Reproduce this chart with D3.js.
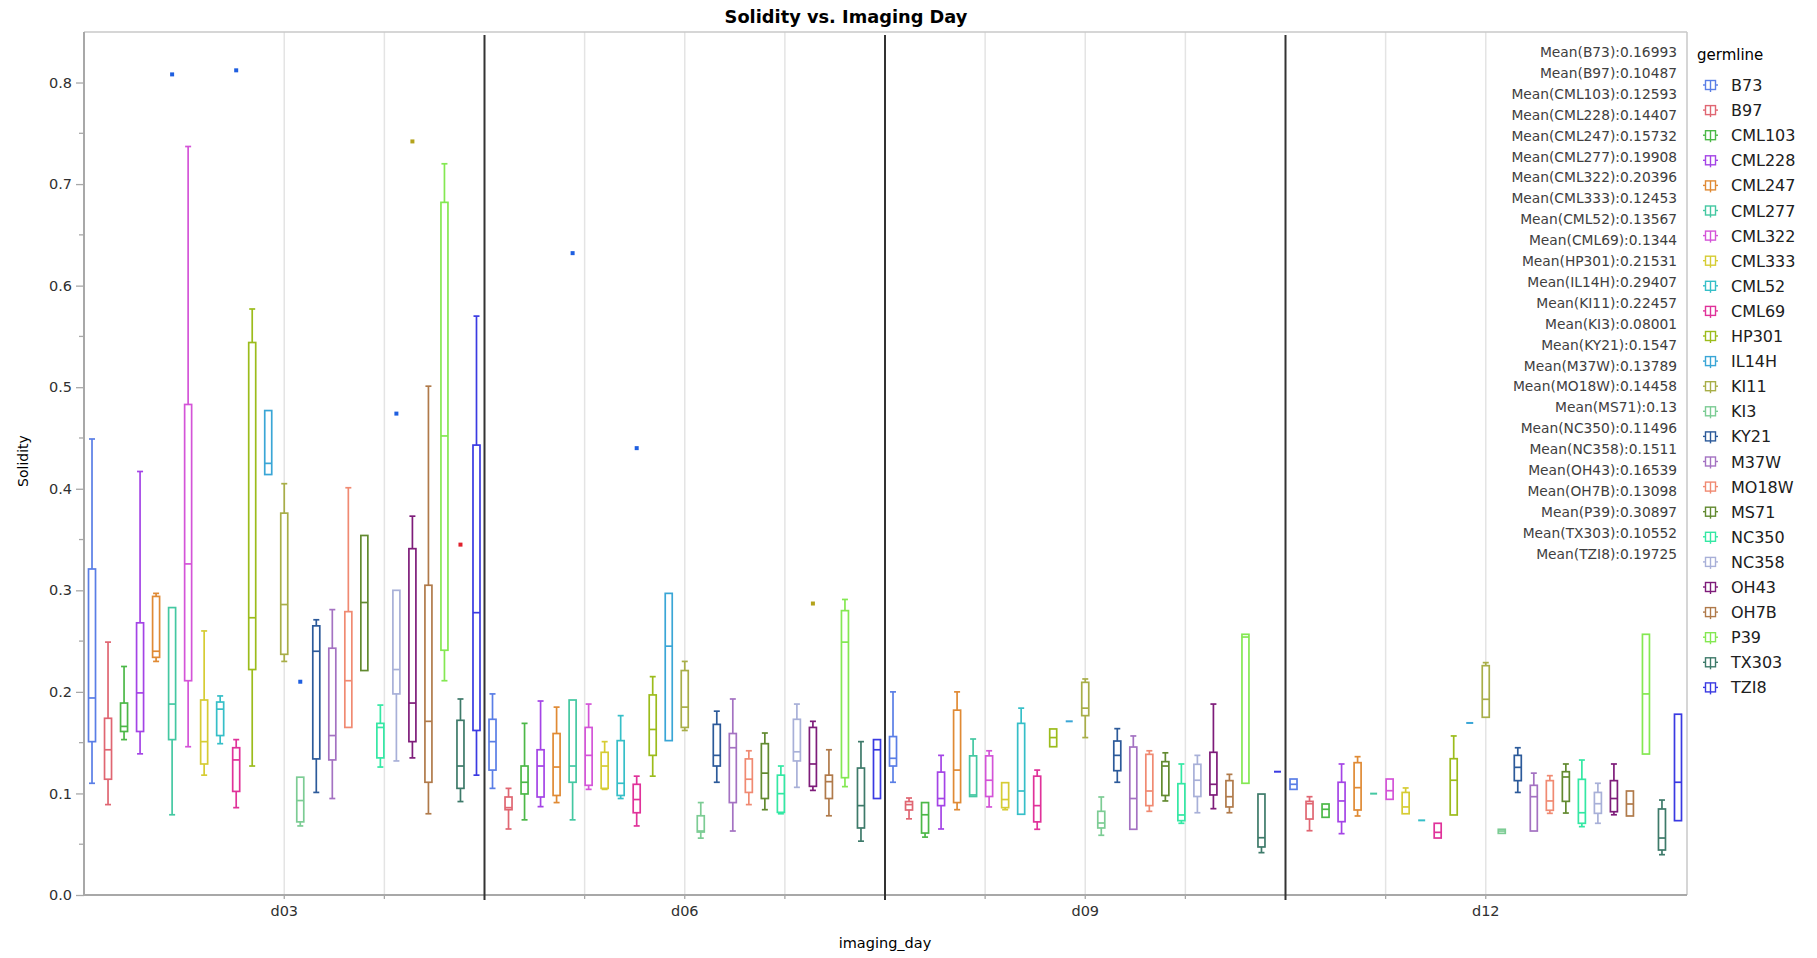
<!DOCTYPE html>
<html><head><meta charset="utf-8">
<script src="https://cdn.jsdelivr.net/npm/d3@7"></script>
<style>body{margin:0;background:#fff;} svg{display:block;}</style>
</head><body>
<script>
const days = ["d03","d06","d09","d12"];
const germlines = ["B73","B97","CML103","CML228","CML247","CML277","CML322","CML333","CML52","CML69","HP301","IL14H","KI11","KI3","KY21","M37W","MO18W","MS71","NC350","NC358","OH43","OH7B","P39","TX303","TZI8"];
const palette = ["#5a7ee6","#e06672","#4cb848","#a444e6","#e08a34","#44c8a2","#d454d8","#d6cc34","#36bfc8","#e0329a","#9cbc1c","#3aa6d6","#a8ae48","#7ccc94","#2c5a9a","#a472c2","#f08a72","#628a30","#34e8a4","#a8b0d8","#7e1c7a","#b07a4a","#84e852","#3e7a6a","#3a3ae2"];
// [lower whisker, Q1, median, Q3, upper whisker]
const statsD03 = [
 [0.110,0.151,0.194,0.321,0.449],[0.089,0.114,0.143,0.174,0.249],[0.153,0.161,0.166,0.189,0.225],
 [0.139,0.161,0.199,0.268,0.417],[0.230,0.234,0.240,0.294,0.297],[0.079,0.153,0.188,0.283,0.283],
 [0.146,0.211,0.326,0.483,0.737],[0.118,0.129,0.151,0.192,0.260],[0.149,0.157,0.183,0.190,0.196],
 [0.086,0.102,0.133,0.145,0.153],[0.127,0.222,0.273,0.544,0.577],[0.414,0.414,0.425,0.477,0.477],
 [0.230,0.237,0.286,0.376,0.405],[0.068,0.072,0.093,0.116,0.116],[0.101,0.134,0.240,0.265,0.271],
 [0.095,0.133,0.157,0.243,0.281],[0.165,0.165,0.211,0.279,0.401],[0.221,0.221,0.288,0.354,0.354],
 [0.126,0.135,0.165,0.169,0.187],[0.132,0.198,0.222,0.300,0.300],[0.135,0.151,0.189,0.341,0.373],
 [0.080,0.111,0.171,0.305,0.501],[0.211,0.241,0.452,0.682,0.720],[0.092,0.105,0.127,0.172,0.193],
 [0.118,0.162,0.278,0.443,0.570]];
const statsD06 = [
 [0.105,0.123,0.151,0.173,0.198],[0.065,0.084,0.086,0.0965,0.105],[0.074,0.0995,0.111,0.127,0.169],
 [0.087,0.0965,0.127,0.143,0.191],[0.091,0.098,0.126,0.159,0.185],[0.074,0.111,0.127,0.192,0.192],
 [0.104,0.108,0.1375,0.165,0.188],[0.104,0.105,0.127,0.1405,0.151],[0.095,0.098,0.110,0.152,0.1766],
 [0.068,0.081,0.094,0.109,0.117],[0.117,0.1375,0.163,0.197,0.215],[0.152,0.152,0.245,0.297,0.297],
 [0.162,0.165,0.185,0.221,0.230],[0.056,0.062,0.063,0.078,0.091],[0.111,0.127,0.1375,0.168,0.181],
 [0.063,0.091,0.145,0.159,0.193],[0.089,0.101,0.114,0.134,0.142],[0.084,0.095,0.120,0.149,0.1595],
 [0.080,0.0814,0.0998,0.118,0.127],[0.106,0.132,0.141,0.173,0.188],[0.103,0.107,0.129,0.165,0.171],
 [0.078,0.095,0.1116,0.118,0.143],[0.1067,0.1155,0.249,0.280,0.291],[0.053,0.066,0.088,0.125,0.151],
 [0.095,0.095,0.143,0.153,0.153]];
const statsD09 = [
 [0.111,0.127,0.1346,0.156,0.200],[0.075,0.0837,0.089,0.092,0.0955],[0.057,0.061,0.079,0.091,0.091],
 [0.065,0.088,0.095,0.121,0.1375],[0.084,0.091,0.123,0.182,0.200],[0.097,0.097,0.0985,0.137,0.1536],
 [0.0867,0.097,0.113,0.137,0.142],[0.084,0.086,0.094,0.1106,0.1106],[0.0795,0.0795,0.1024,0.169,0.184],
 [0.0647,0.072,0.088,0.117,0.123],[0.146,0.146,0.155,0.1635,0.1635],[0.171,0.171,0.171,0.171,0.171],
 [0.155,0.1766,0.184,0.2094,0.2127],[0.0588,0.066,0.0709,0.0824,0.0965],[0.111,0.1224,0.1375,0.1516,0.1638],
 [0.0647,0.0647,0.095,0.1457,0.1566],[0.0824,0.088,0.1024,0.1385,0.142],[0.0926,0.098,0.127,0.1313,0.140],
 [0.0706,0.0732,0.0788,0.1096,0.129],[0.081,0.097,0.113,0.1287,0.1375],[0.085,0.0985,0.109,0.1405,0.188],
 [0.081,0.0867,0.0968,0.1126,0.1188],[0.110,0.110,0.254,0.2567,0.2567],[0.0417,0.0473,0.0564,0.0994,0.0994],
 [0.1214,0.1214,0.1214,0.1214,0.1214]];
const statsD12 = [
 [0.104,0.104,0.109,0.1142,0.1142],[0.0633,0.0748,0.0899,0.0922,0.0968],[0.0765,0.0765,0.0844,0.0896,0.0896],
 [0.0604,0.0722,0.0926,0.111,0.129],[0.0778,0.0837,0.1057,0.1303,0.1362],[0.0998,0.0998,0.0998,0.0998,0.0998],
 [0.0942,0.0942,0.1027,0.1142,0.1142],[0.080,0.080,0.0867,0.101,0.1054],[0.0735,0.0735,0.0735,0.0735,0.0735],
 [0.0561,0.0561,0.0617,0.0706,0.0706],[0.0788,0.0788,0.113,0.1342,0.1566],[0.1694,0.1694,0.1694,0.1694,0.1694],
 [0.175,0.175,0.1927,0.2258,0.2288],[0.0607,0.0607,0.063,0.0647,0.0647],[0.101,0.1126,0.1257,0.1375,0.145],
 [0.063,0.063,0.0968,0.108,0.120],[0.0804,0.0834,0.0926,0.1126,0.1175],[0.0807,0.0922,0.1162,0.1214,0.129],
 [0.0673,0.0706,0.081,0.1139,0.1329],[0.0706,0.0804,0.0899,0.101,0.110],[0.079,0.082,0.095,0.1126,0.129],
 [0.0778,0.0778,0.0896,0.1024,0.1024],[0.1388,0.1388,0.198,0.2567,0.2567],[0.0397,0.0443,0.0561,0.0847,0.0935],
 [0.0732,0.0732,0.111,0.178,0.178]];
const outlierDays = ["d03","d03","d03","d03","d03","d03","d06","d06","d06"];
const outlierGermlines = ["CML277","CML69","KI3","NC358","OH43","TX303","CML277","CML69","OH43"];
const outlierValues = [0.808,0.812,0.210,0.474,0.742,0.345,0.632,0.440,0.287];
const outlierColorKeys = ["b","b","b","b","o","r","b","b","o"];
const meanValues = ["0.16993","0.10487","0.12593","0.14407","0.15732","0.19908","0.20396","0.12453","0.13567","0.1344","0.21531","0.29407","0.22457","0.08001","0.1547","0.13789","0.14458","0.13","0.11496","0.1511","0.16539","0.13098","0.30897","0.10552","0.19725"];
const yTicks = [0,0.1,0.2,0.3,0.4,0.5,0.6,0.7,0.8];

const W=1817,H=958;
const L=84,R=1686,T=32,B=895;
const svg=d3.select("body").append("svg").attr("width",W).attr("height",H);
const font="'DejaVu Sans', Verdana, sans-serif";
const statsByDay={d03:statsD03,d06:statsD06,d09:statsD09,d12:statsD12};
const color=d3.scaleOrdinal().domain(germlines).range(palette);
const outColor={b:"#1f5fe0",o:"#b4a31c",r:"#e0202c"};

const x=d3.scaleBand().domain(days).range([L,R]).padding(0);
const xi=d3.scaleBand().domain(germlines).range([0,x.bandwidth()]).padding(0);
const y=d3.scaleLinear().domain([0,0.85]).range([B,B-0.85*1015.6]);

const bw=x.bandwidth();
const gridX=[];
const c0=x(days[0])+bw/2, c1=x(days[days.length-1])+bw/2;
for(let gx=c0; gx<=c1+1; gx+=bw/4){
  const isBoundary = days.slice(1).some(d=>Math.abs(x(d)-gx)<2);
  if(!isBoundary) gridX.push(gx);
}
svg.append("g").selectAll("line").data(gridX).join("line")
  .attr("x1",d=>d).attr("x2",d=>d).attr("y1",T).attr("y2",B)
  .attr("stroke","#e4e4e4").attr("stroke-width",1.5);

svg.append("line").attr("x1",L).attr("x2",R+1).attr("y1",T).attr("y2",T).attr("stroke","#c8c8c8").attr("stroke-width",1.5);
svg.append("line").attr("x1",R+1).attr("x2",R+1).attr("y1",T).attr("y2",B).attr("stroke","#c8c8c8").attr("stroke-width",1.5);

const yAxis=d3.axisLeft(y).tickValues(yTicks).tickFormat(d3.format(".1f")).tickSize(8).tickPadding(4);
const gy=svg.append("g").attr("transform",`translate(${L},0)`).call(yAxis);
gy.select(".domain").attr("stroke","#a8a8a8").attr("stroke-width",2).attr("d",`M-0,${T}V${B}`);
gy.selectAll(".tick line").attr("stroke","#a8a8a8").attr("stroke-width",1.3);
gy.selectAll(".tick text").attr("font-family",font).attr("font-size",14.5).attr("fill","#303030");
const minor=d3.range(0.05,0.85,0.1);
svg.append("g").selectAll("line").data(minor).join("line")
  .attr("x1",L-5).attr("x2",L).attr("y1",d=>y(d)).attr("y2",d=>y(d)).attr("stroke","#a8a8a8").attr("stroke-width",1.3);

svg.append("line").attr("x1",L).attr("x2",R+1).attr("y1",B).attr("y2",B).attr("stroke","#a8a8a8").attr("stroke-width",2);
svg.append("g").selectAll("line").data(gridX).join("line")
  .attr("x1",d=>d).attr("x2",d=>d).attr("y1",B).attr("y2",B+4).attr("stroke","#a8a8a8").attr("stroke-width",1.3);
svg.append("g").selectAll("text").data(days).join("text")
  .attr("x",d=>x(d)+bw/2).attr("y",B+21).attr("text-anchor","middle")
  .attr("font-family",font).attr("font-size",14.5).attr("fill","#303030").text(d=>d);

svg.append("g").selectAll("line").data(days.slice(1)).join("line")
  .attr("x1",d=>x(d)).attr("x2",d=>x(d)).attr("y1",T+3).attr("y2",B+5)
  .attr("stroke","#333").attr("stroke-width",2);

const boxW=7, capW=6;
days.forEach(day=>{
  const g=svg.append("g");
  statsByDay[day].forEach((s,i)=>{
    const gl=germlines[i];
    const cx=x(day)+xi(gl)+xi.bandwidth()/2;
    const c=color(gl);
    const [lo,q1,md,q3,hi]=s;
    const sw=1.7;
    if(q3-q1<1e-6){
      g.append("line").attr("x1",cx-boxW/2).attr("x2",cx+boxW/2).attr("y1",y(md)).attr("y2",y(md)).attr("stroke",c).attr("stroke-width",2);
      return;
    }
    if(hi>q3){
      g.append("line").attr("x1",cx).attr("x2",cx).attr("y1",y(hi)).attr("y2",y(q3)).attr("stroke",c).attr("stroke-width",sw);
      g.append("line").attr("x1",cx-capW/2).attr("x2",cx+capW/2).attr("y1",y(hi)).attr("y2",y(hi)).attr("stroke",c).attr("stroke-width",sw);
    }
    if(lo<q1){
      g.append("line").attr("x1",cx).attr("x2",cx).attr("y1",y(q1)).attr("y2",y(lo)).attr("stroke",c).attr("stroke-width",sw);
      g.append("line").attr("x1",cx-capW/2).attr("x2",cx+capW/2).attr("y1",y(lo)).attr("y2",y(lo)).attr("stroke",c).attr("stroke-width",sw);
    }
    g.append("rect").attr("x",cx-boxW/2).attr("y",y(q3)).attr("width",boxW).attr("height",y(q1)-y(q3))
      .attr("fill","#fff").attr("stroke",c).attr("stroke-width",sw);
    g.append("line").attr("x1",cx-boxW/2).attr("x2",cx+boxW/2).attr("y1",y(md)).attr("y2",y(md)).attr("stroke",c).attr("stroke-width",sw);
  });
});

svg.append("g").selectAll("rect").data(outlierValues).join("rect")
  .attr("x",(d,i)=>x(outlierDays[i])+xi(outlierGermlines[i])+xi.bandwidth()/2-2)
  .attr("y",d=>y(d)-2).attr("width",4).attr("height",4)
  .attr("fill",(d,i)=>outColor[outlierColorKeys[i]]);

svg.append("g").selectAll("text").data(germlines).join("text")
  .attr("x",1677).attr("y",(d,i)=>57+i*20.9).attr("text-anchor","end")
  .attr("font-family",font).attr("font-size",13.8).attr("fill","#404040")
  .text((d,i)=>`Mean(${d}):${meanValues[i]}`);

svg.append("text").attr("x",846).attr("y",23).attr("text-anchor","middle")
  .attr("font-family",font).attr("font-weight","bold").attr("font-size",17.8).attr("fill","#000").text("Solidity vs. Imaging Day");
svg.append("text").attr("transform","translate(28,461) rotate(-90)").attr("text-anchor","middle")
  .attr("font-family",font).attr("font-size",14).attr("fill","#000").text("Solidity");
svg.append("text").attr("x",885).attr("y",948).attr("text-anchor","middle")
  .attr("font-family",font).attr("font-size",14.5).attr("fill","#000").text("imaging_day");

const lg=svg.append("g");
lg.append("text").attr("x",1697).attr("y",60).attr("font-family",font).attr("font-size",15).attr("fill","#000").text("germline");
germlines.forEach((gl,i)=>{
  const yy=85+i*25.1;
  const c=color(gl);
  lg.append("line").attr("x1",1703).attr("x2",1718).attr("y1",yy).attr("y2",yy).attr("stroke",c).attr("stroke-width",1.4);
  lg.append("rect").attr("x",1705.5).attr("y",yy-4.5).attr("width",10).attr("height",9).attr("fill","#fff").attr("stroke",c).attr("stroke-width",1.4);
  lg.append("line").attr("x1",1710.5).attr("x2",1710.5).attr("y1",yy-4.5).attr("y2",yy+7).attr("stroke",c).attr("stroke-width",1.4);
  lg.append("text").attr("x",1731).attr("y",yy+6).attr("font-family",font).attr("font-size",16).attr("fill","#202020").text(gl);
});
</script>
</body></html>
